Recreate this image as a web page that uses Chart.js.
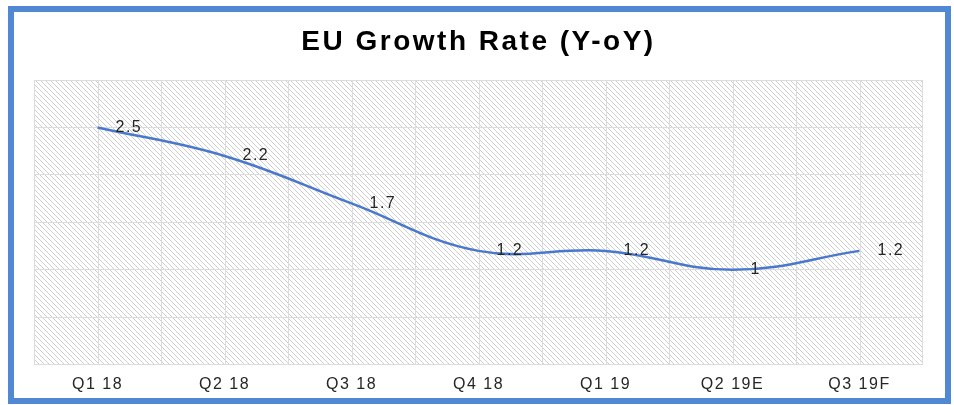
<!DOCTYPE html>
<html>
<head>
<meta charset="utf-8">
<script src="https://cdn.jsdelivr.net/npm/chart.js@4"></script>
<style>
  html, body { margin: 0; padding: 0; background: #ffffff; }
  body { width: 954px; height: 405px; position: relative; overflow: hidden; }
  #frame { position: absolute; left: 8px; top: 6px; width: 943px; height: 398px; box-sizing: border-box; border: 6px solid #5088d4; }
  #wrap { position: absolute; left: 0; top: 0; width: 954px; height: 405px; }
</style>
</head>
<body>
<div id="frame"></div>
<div id="wrap"><canvas id="c" width="954" height="405"></canvas></div>
<script>
const categories = ['Q1 18', 'Q2 18', 'Q3 18', 'Q4 18', 'Q1 19', 'Q2 19E', 'Q3 19F'];
const growthValues = [2.5, 2.2, 1.7, 1.2, 1.2, 1.0, 1.2];
const titleText = 'EU Growth Rate (Y-oY)';
const yMin = 0, yMax = 3, yStep = 0.5;

function makeHatch() {
  const s = 5;
  const p = document.createElement('canvas');
  p.width = s; p.height = s;
  const g = p.getContext('2d');
  g.fillStyle = '#ffffff';
  g.fillRect(0, 0, s, s);
  g.strokeStyle = '#cecece';
  g.lineWidth = 1;
  g.beginPath();
  g.moveTo(-1, -1); g.lineTo(s + 1, s + 1);
  g.moveTo(-1, s - 1); g.lineTo(1, s + 1);
  g.moveTo(s - 1, -1); g.lineTo(s + 1, 1);
  g.stroke();
  return p;
}

const backgroundPlugin = {
  id: 'plotBackground',
  beforeDraw(chart) {
    const { ctx, chartArea: a, scales } = chart;
    ctx.save();
    ctx.fillStyle = ctx.createPattern(makeHatch(), 'repeat');
    ctx.fillRect(a.left, a.top, a.right - a.left, a.bottom - a.top);
    // vertical grid: category boundaries and centres
    const x = scales.x;
    ctx.strokeStyle = '#dcdcdc';
    ctx.lineWidth = 1;
    ctx.beginPath();
    for (let i = 0; i < categories.length; i++) {
      const c = x.getPixelForValue(i);
      const half = (x.getPixelForValue(1) - x.getPixelForValue(0)) / 2;
      [c - half, c].forEach(px => {
        const xx = Math.round(px) + 0.5;
        ctx.moveTo(xx, a.top); ctx.lineTo(xx, a.bottom);
      });
      if (i === categories.length - 1) {
        const xx = Math.round(c + half) - 0.5;
        ctx.moveTo(xx, a.top); ctx.lineTo(xx, a.bottom);
      }
    }
    ctx.stroke();
    ctx.restore();
    ctx.letterSpacing = '2.5px';
  },
  afterDatasetsDraw(chart) {
    const { ctx } = chart;
    ctx.letterSpacing = '1.5px';
    const meta = chart.getDatasetMeta(0);
    ctx.save();
    ctx.font = '16px "Liberation Sans", Arial, sans-serif';
    ctx.fillStyle = '#262626';
    ctx.textAlign = 'left';
    ctx.textBaseline = 'middle';
    meta.data.forEach((pt, i) => {
      ctx.fillText(String(growthValues[i]), pt.x + 18, pt.y);
    });
    ctx.restore();
  }
};

new Chart(document.getElementById('c'), {
  type: 'line',
  data: {
    labels: categories,
    datasets: [{
      data: growthValues,
      borderColor: '#4a78cc',
      borderWidth: 2.5,
      tension: 0.4,
      pointRadius: 0,
      fill: false
    }]
  },
  options: {
    responsive: false,
    animation: false,
    layout: { padding: { left: 34, right: 31, top: 0, bottom: 1 } },
    plugins: {
      legend: { display: false },
      tooltip: { enabled: false },
      title: {
        display: true,
        text: titleText,
        color: '#000000',
        font: { family: '"Liberation Sans", Arial, sans-serif', size: 28, weight: 'bold', lineHeight: 1.2 },
        padding: { top: 25, bottom: 21.4 }
      }
    },
    scales: {
      x: {
        offset: true,
        grid: { display: false, drawTicks: false },
        border: { display: false },
        ticks: {
          z: 1,
          color: '#262626',
          padding: 10,
          maxRotation: 0,
          autoSkip: false,
          font: { family: '"Liberation Sans", Arial, sans-serif', size: 16 }
        }
      },
      y: {
        min: yMin,
        max: yMax,
        ticks: { display: false, stepSize: yStep },
        grid: { color: '#dcdcdc', lineWidth: 1, drawTicks: false },
        border: { display: false }
      }
    }
  },
  plugins: [backgroundPlugin]
});
</script>
</body>
</html>
